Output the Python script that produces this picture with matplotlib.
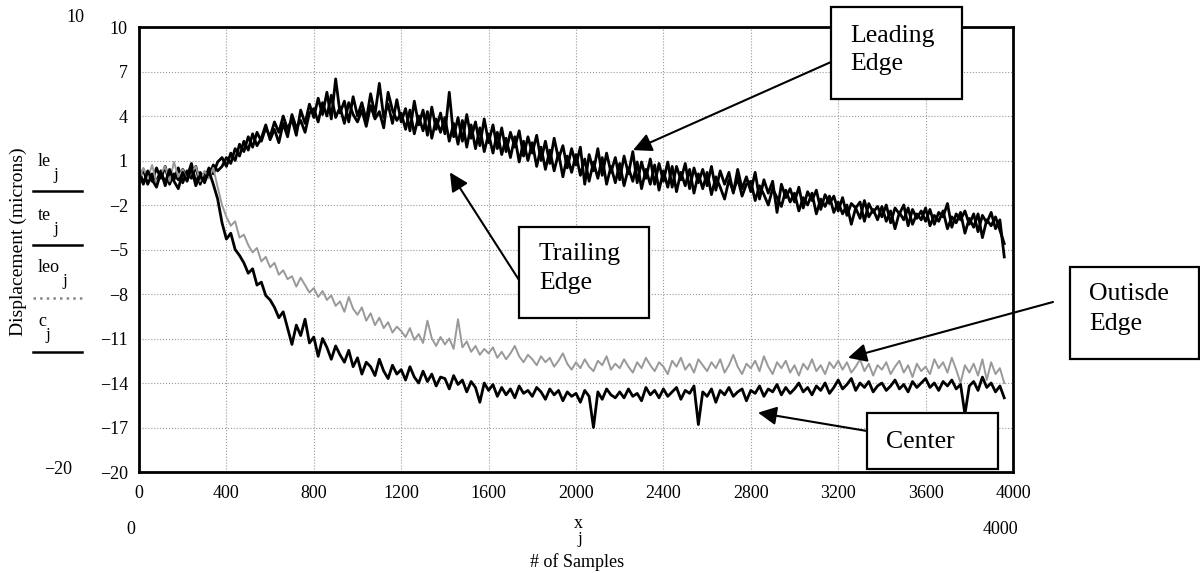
import numpy as np
import matplotlib
matplotlib.use('Agg')
import matplotlib.pyplot as plt
from matplotlib.lines import Line2D
from matplotlib.patches import Rectangle

plt.rcParams['font.family'] = ['Liberation Serif', 'DejaVu Serif']

# displacement traces, one value every 20 samples
le = [0.3, -0.5, 0.2, -0.4, 0.5, -0.2, 0.6, -0.6, 0.1, -0.3,
      0.4, -0.1, 0.8, -0.5, 0.2, -0.3, 0.5, 0.1, 0.9, 1.2,
      0.6, 1.5, 1.0, 2.1, 1.6, 2.6, 1.9, 2.9, 2.3, 3.2,
      2.6, 3.6, 2.9, 4.0, 3.1, 3.8, 2.7, 4.4, 3.5, 4.8,
      3.9, 5.2, 4.1, 5.6, 3.8, 6.5, 4.2, 5.0, 3.6, 5.3,
      4.0, 4.9, 3.7, 5.5, 4.1, 6.2, 3.9, 4.8, 3.5, 5.1,
      3.6, 4.5, 3.0, 5.0, 3.4, 4.4, 2.7, 4.6, 3.1, 4.2,
      2.8, 5.6, 2.6, 3.9, 2.3, 4.1, 2.5, 3.6, 2.0, 3.8,
      2.2, 3.4, 1.8, 3.2, 1.6, 2.9, 1.9, 3.0, 1.3, 2.6,
      1.5, 2.7, 1.0, 2.3, 0.8, 2.5, 1.1, 2.0, 0.5, 1.8,
      0.7, 1.9, -0.6, 1.4, 0.3, 1.8, 0.0, 1.5, 0.2, 1.2,
      -0.3, 1.3, 0.1, 1.6, -0.5, 0.9, -0.2, 1.1, -0.6, 0.8,
      -0.4, 0.9, -0.8, 0.6, -0.3, 0.8, -0.9, 0.5, -0.5, 0.4,
      -0.7, 0.6, -1.0, 0.3, -0.6, 0.2, -1.2, 0.4, -0.9, -0.1,
      -1.1, 0.2, -1.6, -0.3, -1.2, -0.4, -2.5, -0.6, -1.5, -0.9,
      -1.8, -0.8, -2.2, -1.1, -1.7, -1.0, -2.3, -1.3, -1.9, -1.4,
      -2.4, -1.5, -2.7, -1.9, -2.2, -1.8, -3.1, -1.9, -2.5, -2.1,
      -2.8, -2.0, -3.2, -2.2, -2.6, -2.0, -3.4, -2.3, -2.9, -2.4,
      -3.1, -2.3, -3.3, -2.5, -2.8, -1.9, -3.5, -2.6, -3.0, -2.4,
      -3.3, -2.6, -3.8, -2.7, -3.2, -2.5, -3.6, -3.0, -5.5]

te = [-0.2, 0.4, -0.6, 0.1, -0.4, 0.3, -0.7, 0.2, -0.3, 0.5,
      -0.5, 0.3, -0.2, 0.6, -0.6, 0.2, -0.1, 0.7, 0.3, 0.6,
      1.2, 0.8, 1.8, 1.3, 2.3, 1.7, 2.8, 2.0, 2.5, 3.4,
      2.4, 3.1, 2.2, 3.5, 2.6, 4.1, 3.2, 3.7, 2.9, 4.2,
      4.5, 3.6, 4.9, 4.0, 5.4, 3.9, 4.6, 3.5, 4.9, 4.1,
      3.6, 4.4, 3.3, 4.7, 3.8, 4.3, 3.2, 5.6, 4.4, 3.7,
      4.2, 3.1, 4.4, 2.8, 4.0, 3.0, 4.3, 2.5, 3.8, 2.9,
      3.9, 2.3, 3.5, 2.1, 3.7, 1.9, 3.4, 1.8, 3.2, 1.6,
      2.8, 1.5, 2.9, 1.4, 2.5, 1.2, 2.6, 0.9, 2.3, 1.0,
      2.2, 0.6, 1.9, 0.4, 1.7, 0.3, 1.5, -0.1, 1.3, 0.2,
      1.4, 0.0, 1.1, -0.4, 0.9, -0.2, 1.2, -0.6, 0.6, -0.5,
      0.8, -0.7, 0.5, -0.4, 0.9, -0.9, 0.4, -0.6, 0.7, -1.0,
      0.3, -0.8, 0.6, -1.1, 0.2, -0.7, 0.4, -1.2, 0.1, -0.9,
      0.2, -1.3, -0.1, -0.8, -1.6, -0.3, -1.1, -0.2, -1.4, -0.6,
      -0.4, -1.7, -0.7, -1.3, -2.0, -0.9, -1.5, -2.1, -1.0, -1.8,
      -1.2, -2.4, -1.5, -2.0, -1.2, -2.6, -1.6, -2.1, -1.4, -2.5,
      -1.8, -2.6, -2.0, -3.3, -2.2, -2.9, -1.7, -2.8, -2.3, -3.0,
      -2.1, -3.1, -2.4, -3.6, -2.5, -3.0, -2.2, -3.3, -2.6, -3.0,
      -2.2, -3.4, -2.7, -3.1, -2.4, -3.6, -2.8, -3.2, -2.5, -3.9,
      -2.9, -3.5, -2.6, -4.2, -3.0, -3.4, -2.8, -3.7, -4.6]

leo = [-0.3, 0.5, -0.2, 0.7, -0.5, 0.1, 0.6, -0.4, 0.9, -0.1,
       0.4, -0.3, 0.2, 0.6, -0.4, 0.3, -0.2, 0.5, -0.8, -2.0,
       -2.8, -3.4, -3.1, -4.2, -4.0, -4.7, -5.2, -4.9, -5.8, -5.5,
       -6.2, -5.9, -6.7, -6.4, -7.0, -6.8, -7.5, -6.9, -7.4, -7.9,
       -7.6, -8.2, -7.8, -8.4, -8.1, -8.8, -8.5, -9.2, -8.2, -9.0,
       -9.4, -8.9, -9.8, -9.3, -10.1, -9.6, -10.3, -9.9, -10.6, -10.2,
       -10.5, -10.9, -10.3, -11.1, -10.7, -11.3, -9.8, -11.0, -11.5, -10.9,
       -11.4, -11.0, -11.7, -9.7, -11.6, -11.2, -11.9, -11.5, -12.1, -11.7,
       -12.0, -11.6, -12.3, -11.9, -12.4, -12.0, -11.5, -12.2, -12.6, -12.1,
       -12.4, -12.8, -12.2, -12.6, -12.3, -12.9, -12.5, -12.0, -12.7, -13.1,
       -12.6, -13.0, -12.4, -12.9, -13.2, -12.5, -12.8, -12.2, -13.1, -12.7,
       -13.0, -12.4, -12.9, -13.3, -12.6, -13.0, -12.3, -12.8, -13.2, -12.6,
       -12.9, -13.4, -12.5, -12.9, -12.3, -13.1, -12.7, -13.3, -12.4, -12.8,
       -13.2, -12.6, -13.0, -12.4, -13.3, -12.8, -12.1, -12.9, -13.4, -12.7,
       -13.0, -12.5, -13.2, -12.2, -12.9, -13.4, -12.6, -13.0, -12.5, -13.3,
       -12.8, -13.5, -12.7, -13.1, -12.4, -13.2, -12.8, -13.4, -12.6, -13.0,
       -12.5, -13.1, -12.6, -13.3, -12.9, -12.4, -13.2, -12.7, -13.5, -12.8,
       -13.1, -12.6, -13.4, -12.9, -12.5, -13.3, -12.8, -13.6, -12.7, -13.2,
       -12.9, -13.4, -12.4, -13.0, -12.6, -13.3, -12.3, -13.1, -14.0, -12.8,
       -13.3, -12.7, -13.5, -12.4, -13.8, -12.6, -13.4, -13.0, -14.0]

c = [0.1, -0.6, 0.3, -0.3, -0.8, 0.2, -0.5, 0.4, -0.4, -0.9,
     0.2, -0.4, 0.5, -0.7, 0.0, -0.5, 0.3, -0.6, -1.6, -3.2,
     -4.3, -3.9, -5.0, -5.4, -5.9, -6.6, -6.3, -7.4, -7.2, -8.1,
     -8.4, -8.9, -9.6, -9.2, -10.3, -11.4, -10.1, -10.8, -9.7, -11.3,
     -10.9, -12.2, -11.0, -11.6, -12.4, -11.5, -12.1, -12.6, -11.8, -12.9,
     -12.3, -13.4, -12.6, -12.9, -13.5, -12.4, -13.2, -13.7, -12.8, -13.4,
     -13.1, -13.8, -12.9, -13.6, -14.0, -13.2, -13.9, -13.4, -14.2, -13.6,
     -13.7, -14.4, -13.5, -14.1, -13.8, -14.6, -13.9, -14.3, -15.3, -14.0,
     -14.5, -14.1, -14.9, -14.3, -14.8, -14.4, -15.0, -14.2, -14.7, -14.5,
     -14.9, -14.3, -14.6, -15.1, -14.4, -14.8, -14.5, -15.2, -14.6, -14.9,
     -14.7, -15.3, -14.5, -14.9, -17.0, -14.6, -15.1, -14.4, -14.8, -15.0,
     -14.6, -15.0, -14.4, -14.9, -14.7, -15.2, -14.3, -14.8, -14.5, -15.0,
     -14.4, -14.9, -14.6, -14.3, -15.1, -14.5, -14.7, -14.2, -16.8, -14.6,
     -14.9, -14.4, -15.3, -14.5, -14.8, -14.3, -14.9, -14.6, -14.4, -15.2,
     -14.5, -14.7, -14.2, -14.9, -14.4, -14.6, -14.1, -14.8, -14.3, -14.7,
     -14.4, -14.0, -14.6, -14.3, -14.8, -14.2, -14.5, -14.0, -14.7, -14.3,
     -13.8, -14.4, -14.1, -13.7, -14.5, -14.0, -14.3, -13.9, -14.6, -14.2,
     -14.0, -14.5, -14.2, -13.8, -14.4, -14.1, -14.6, -13.9, -14.3, -14.0,
     -13.7, -14.3, -14.0, -14.5, -13.9, -14.2, -13.8, -14.4, -14.1, -16.1,
     -14.2, -13.9, -14.5, -13.6, -14.3, -14.0, -14.6, -14.2, -15.0]

samples = np.arange(len(le)) * 20

x_ticks = list(range(0, 4001, 400))
y_ticks = list(range(-20, 11, 3))

W, H = 1200, 573
fig = plt.figure(figsize=(W / 100, H / 100), dpi=100)
ax = fig.add_axes([139 / W, 1 - 472 / H, 874 / W, 445 / H])

ax.plot(samples, le, color='black', lw=2.0)
ax.plot(samples, te, color='black', lw=2.0)
ax.plot(samples, leo, color='#999999', lw=1.4)
ax.plot(samples, c, color='black', lw=2.0)

ax.set_xlim(0, 4000)
ax.set_ylim(-20, 10)
ax.set_xticks(x_ticks)
ax.set_yticks(y_ticks)
ax.tick_params(length=0, labelsize=13)
ax.tick_params(axis='x', pad=9)
ax.tick_params(axis='y', pad=8)
ax.grid(True, ls=':', color='0.6', lw=0.8)
for s in ax.spines.values():
    s.set_linewidth(2.0)


def px(x, y):
    return x / W, 1 - y / H


# stray Mathcad range labels
fig.text(*px(75, 18), '10', ha='center', va='center', fontsize=13)
fig.text(*px(58, 469), '\u221220', ha='center', va='center', fontsize=13)
fig.text(*px(131, 530), '0', ha='center', va='center', fontsize=13)
fig.text(*px(1000, 530), '4000', ha='center', va='center', fontsize=13)
fig.text(*px(578, 523), 'x', ha='center', va='center', fontsize=13)
fig.text(*px(580, 539), 'j', ha='center', va='center', fontsize=12)
fig.text(*px(577, 562), '# of Samples', ha='center', va='center', fontsize=13)
fig.text(*px(18, 242), 'Displacement (microns)', rotation=90,
         ha='center', va='center', fontsize=14)

# trace key on the left
keys = [('le', 162, 191, 'black', '-'),
        ('te', 216, 245, 'black', '-'),
        ('leo', 268, 298, '#888888', ':'),
        ('c', 322, 352, 'black', '-')]
for name, ty, ly, col, ls in keys:
    fig.text(*px(38, ty), name, ha='left', va='center', fontsize=13)
    jx = 38 + 7.5 * len(name) + (2 if name == 'leo' else 0)
    fig.text(*px(jx, ty + 13), 'j', ha='left', va='center', fontsize=12)
    fig.add_artist(Line2D([33 / W, 82 / W], [1 - ly / H, 1 - ly / H],
                          color=col, lw=1.8, ls=ls))

# callout boxes (pixel boxes, text baselines) and arrows
notes = [(['Leading', 'Edge'], [42, 70], 850, (831, 7, 962, 99), (831, 62), 2261, 1.7),
         (['Trailing', 'Edge'], [260, 289], 539, (519, 227, 649, 318), (519, 280), 1423, 0.2),
         (['Outisde', 'Edge'], [300, 330], 1089, (1070, 267, 1199, 359), (1053, 302), 3245, -12.3),
         (['Center'], [448], 886, (867, 413, 998, 469), (867, 431), 2833, -16.0)]
for lines, bases, tx, (x0, y0, x1, y1), start, sx, sy in notes:
    fig.add_artist(Rectangle((x0 / W, 1 - y1 / H), (x1 - x0) / W, (y1 - y0) / H,
                             transform=fig.transFigure, fc='white', ec='black',
                             lw=1.6, zorder=5))
    for word, b in zip(lines, bases):
        fig.text(*px(tx, b), word, ha='left', va='baseline', fontsize=18.5, zorder=6)
    ax.annotate('', xy=(sx, sy), xytext=(start[0], H - start[1]),
                textcoords='figure pixels', annotation_clip=False,
                arrowprops=dict(arrowstyle='-|>', color='black', lw=1.5,
                                mutation_scale=28, shrinkA=0, shrinkB=0))

fig.savefig('out.png', dpi=100)
